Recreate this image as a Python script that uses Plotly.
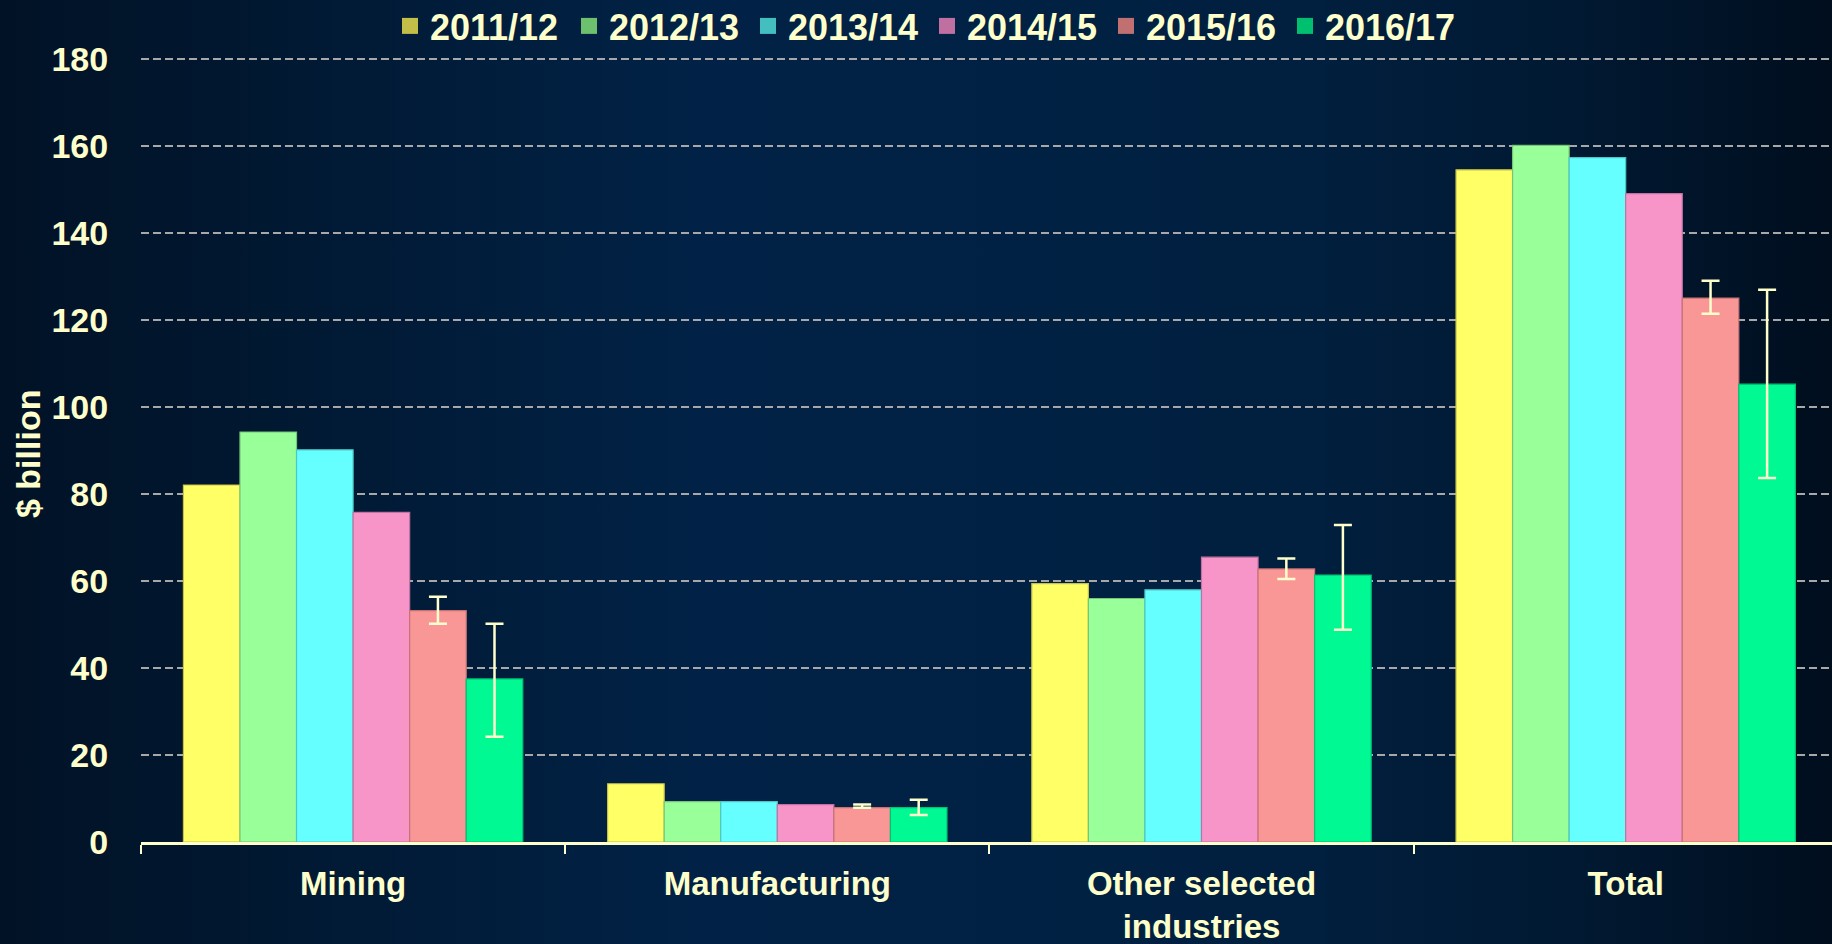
import base64
import plotly.graph_objects as go

# ---------------- data ----------------
categories = ["Mining", "Manufacturing", "Other selected<br>industries", "Total"]
years = ["2011/12", "2012/13", "2013/14", "2014/15", "2015/16", "2016/17"]

v_2011_12 = [82.1, 13.4, 59.4, 154.6]
v_2012_13 = [94.3, 9.3, 56.0, 160.2]
v_2013_14 = [90.2, 9.3, 58.0, 157.4]
v_2014_15 = [75.8, 8.6, 65.5, 149.1]
v_2015_16 = [53.2, 7.9, 62.8, 125.1]
v_2016_17 = [37.5, 7.9, 61.4, 105.3]

# error bar bounds (upper / lower), only for the last two years
hi_2015_16 = [56.4, 8.6, 65.2, 129.1]
lo_2015_16 = [50.2, 7.9, 60.5, 121.5]
hi_2016_17 = [50.2, 9.7, 72.9, 127.0]
lo_2016_17 = [24.2, 6.2, 48.8, 83.7]

y_ticks = [0, 20, 40, 60, 80, 100, 120, 140, 160, 180]

# ---------------- style ----------------
values = [v_2011_12, v_2012_13, v_2013_14, v_2014_15, v_2015_16, v_2016_17]
bounds = [None, None, None, None, (hi_2015_16, lo_2015_16), (hi_2016_17, lo_2016_17)]
fill_colors = ["#FFFF66", "#99FF99", "#66FFFF", "#F895C8", "#F99797", "#00F993"]
edge_colors = ["#C8C24A", "#78C478", "#4CC8C8", "#C272A2", "#C87272", "#00C474"]
legend_colors = ["#C2BE48", "#6DC06D", "#44BFBF", "#C070A0", "#C07070", "#00C070"]

TXT = "#FFFFCC"
FONT = "Liberation Sans, Arial, sans-serif"
W, H = 1832, 944
ML, MR, MT, MB = 141, 0, 55, 102
PW, PH = W - ML - MR, H - MT - MB
CAT_W = 424.2

fig = go.Figure()

for i, yr in enumerate(years):
    err = None
    if bounds[i] is not None:
        hi, lo = bounds[i]
        err = dict(
            type="data",
            symmetric=False,
            array=[h - v for h, v in zip(hi, values[i])],
            arrayminus=[v - l for v, l in zip(values[i], lo)],
            color=TXT,
            thickness=2.5,
            width=9,
        )
    fig.add_trace(go.Bar(
        x=categories, y=values[i], name=yr,
        marker=dict(color=fill_colors[i], line=dict(color=edge_colors[i], width=1.2)),
        error_y=err, showlegend=False,
    ))

# legend-only entries (darker swatches like the reference)
for i, yr in enumerate(years):
    fig.add_trace(go.Scatter(
        x=[None], y=[None], name=yr, mode="markers",
        marker=dict(symbol="square", size=16, color=legend_colors[i]),
        showlegend=True, hoverinfo="skip",
    ))

# background gradient image
svg = f'''<svg xmlns="http://www.w3.org/2000/svg" width="{W}" height="{H}" viewBox="0 0 {W} {H}" preserveAspectRatio="none">
<defs><linearGradient id="g" x1="0" y1="0" x2="1" y2="0">
<stop offset="0" stop-color="#011226"/>
<stop offset="0.12" stop-color="#01172f"/>
<stop offset="0.38" stop-color="#012246"/>
<stop offset="0.6" stop-color="#012143"/>
<stop offset="0.72" stop-color="#011f3e"/>
<stop offset="0.86" stop-color="#011932"/>
<stop offset="1" stop-color="#000e1e"/>
</linearGradient></defs>
<rect x="0" y="0" width="{W}" height="{H}" fill="url(#g)"/></svg>'''
src = "data:image/svg+xml;base64," + base64.b64encode(svg.encode()).decode()

fig.update_layout(
    width=W, height=H,
    margin=dict(l=ML, r=MR, t=MT, b=MB, autoexpand=False),
    paper_bgcolor="#011a36",
    plot_bgcolor="rgba(0,0,0,0)",
    barmode="group", bargap=0.2, bargroupgap=0,
    font=dict(family=FONT, color=TXT),
    images=[dict(
        source=src, xref="paper", yref="paper",
        x=-ML / PW, y=1 + MT / PH, sizex=W / PW, sizey=H / PH,
        xanchor="left", yanchor="top", sizing="stretch", layer="below",
    )],
    legend=dict(
        orientation="h", x=(390 - ML) / PW, xanchor="left",
        y=1 + (MT - 26) / PH, yanchor="middle",
        font=dict(family=FONT, size=36, color=TXT, weight="bold"),
        bgcolor="rgba(0,0,0,0)", entrywidth=134, entrywidthmode="pixels",
        itemclick=False, itemdoubleclick=False,
    ),
    xaxis=dict(
        range=[-0.5, -0.5 + PW / CAT_W],
        showgrid=False, zeroline=False,
        showline=True, linecolor=TXT, linewidth=2.5,
        ticks="outside", tickson="boundaries", ticklen=9, tickwidth=2, tickcolor=TXT,
        ticklabelstandoff=11,
        tickfont=dict(family=FONT, size=33, color=TXT, weight="bold"),
        fixedrange=True,
    ),
    yaxis=dict(
        range=[0, 181], tickvals=y_ticks,
        showgrid=True, gridcolor="#A8A8A8", gridwidth=2, griddash="8px,4px",
        zeroline=False, showline=False,
        ticks="outside", ticklen=25, tickcolor="rgba(0,0,0,0)",
        tickfont=dict(family=FONT, size=34, color=TXT, weight="bold"),
        fixedrange=True,
    ),
    annotations=[dict(
        text="$ billion", xref="paper", yref="paper",
        x=(28 - ML) / PW, y=1 - (454 - MT) / PH,
        xanchor="center", yanchor="middle", textangle=-90, showarrow=False,
        font=dict(family=FONT, size=34, color=TXT, weight="bold"),
    )],
)

fig.write_html("out.html", post_script="document.body.style.margin='0';document.body.style.overflow='hidden';",
               config={"displayModeBar": False})
